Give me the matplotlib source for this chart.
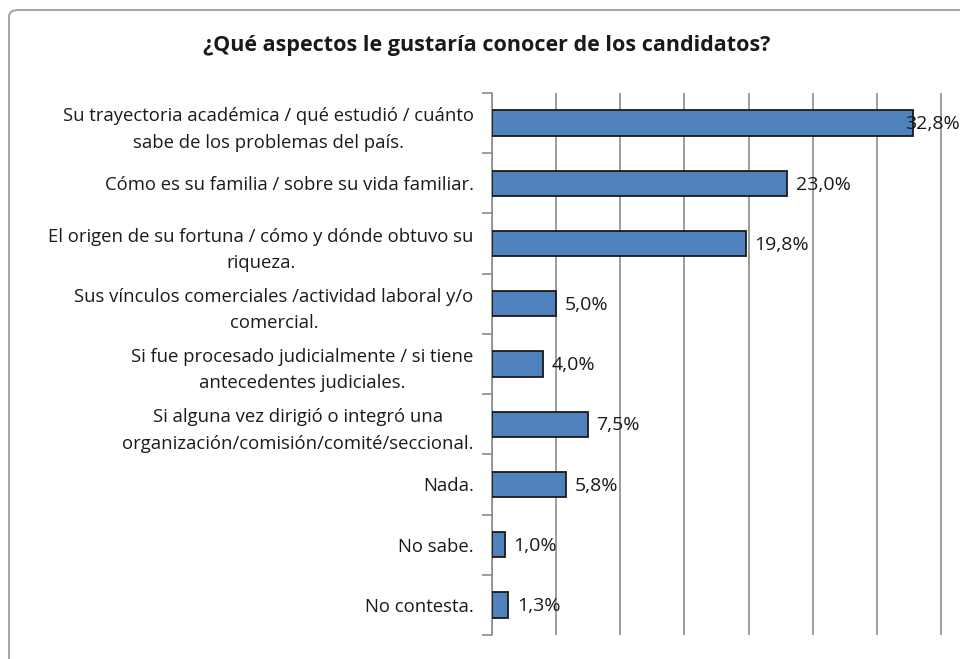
import matplotlib
matplotlib.use("Agg")
import matplotlib.pyplot as plt
import matplotlib.transforms as mtransforms
from matplotlib.patches import FancyBboxPatch

categories = [
    "Su trayectoria académica / qué estudió / cuánto\nsabe de los problemas del país.",
    "Cómo es su familia / sobre su vida familiar.",
    "El origen de su fortuna / cómo y dónde obtuvo su\nriqueza.",
    "Sus vínculos comerciales /actividad laboral y/o\ncomercial.",
    "Si fue procesado judicialmente / si tiene\nantecedentes judiciales.",
    "Si alguna vez dirigió o integró una\norganización/comisión/comité/seccional.",
    "Nada.",
    "No sabe.",
    "No contesta.",
]
values = [32.8, 23.0, 19.8, 5.0, 4.0, 7.5, 5.8, 1.0, 1.3]
title = "¿Qué aspectos le gustaría conocer de los candidatos?"

W, H = 960, 659
fig = plt.figure(figsize=(W / 100, H / 100), dpi=100)
plt.rcParams['font.family'] = ['Open Sans', 'DejaVu Sans']

# chart border
border = FancyBboxPatch((9 / W, -0.05), 1.1, (H - 10) / H + 0.05,
                        boxstyle="round,pad=0,rounding_size=0.01",
                        transform=fig.transFigure, facecolor="none",
                        edgecolor="#a6a6a6", linewidth=1.5, zorder=-1)
fig.patches.append(border)

x0 = 491.7
px_per = 12.85
xmax = 40
left = x0 / W
width = xmax * px_per / W
top_px, bot_px = 93, 635
ax = fig.add_axes([left, 1 - bot_px / H, width, (bot_px - top_px) / H])
ax.set_facecolor("none")

n = len(categories)
ypos = list(range(n))
ax.barh(ypos, values, height=0.42, color="#4F81BD", edgecolor="#1a1a1a",
        linewidth=1.3, zorder=3)
ax.set_ylim(n - 0.5, -0.5)
ax.set_xlim(0, xmax)
ax.set_xticks(range(0, xmax + 1, 5))
ax.tick_params(axis="x", length=0, labelbottom=False)
ax.grid(axis="x", color="#8c8c8c", linewidth=1.2, zorder=0)
for s in ["top", "right", "bottom"]:
    ax.spines[s].set_visible(False)
ax.spines["left"].set_color("#8c8c8c")
ax.spines["left"].set_linewidth(1.2)

ax.set_yticks([i - 0.5 for i in range(n + 1)], minor=False)
ax.set_yticklabels([])
ax.tick_params(axis="y", which="major", length=7, color="#8c8c8c", width=1.2)
ax.set_yticks(ypos, minor=True)
ax.set_yticklabels(categories, minor=True, fontsize=13.3, color="#1a1a1a",
                   multialignment="center", linespacing=1.6)
ax.tick_params(axis="y", which="minor", length=0, pad=13)

# visible x-limit in data units (figure right edge)
vis_right = (W - x0) / px_per
blend = mtransforms.blended_transform_factory(fig.transFigure, ax.transData)
for y, v in zip(ypos, values):
    s = f"{v:.1f}".replace(".", ",") + "%"
    if v + 0.65 + 4.5 > vis_right:
        ax.text(1.0, y + 0.02, s, transform=blend, va="center", ha="right",
                fontsize=14, color="#1a1a1a", zorder=4)
    else:
        ax.text(v + 0.65, y + 0.02, s, va="center", ha="left",
                fontsize=14, color="#1a1a1a", zorder=4)

fig.text(487 / W, 1 - 45 / H, title, ha="center", va="center", fontsize=15.5,
         fontweight="bold", color="#1a1a1a")

fig.savefig("out.png", dpi=100)
